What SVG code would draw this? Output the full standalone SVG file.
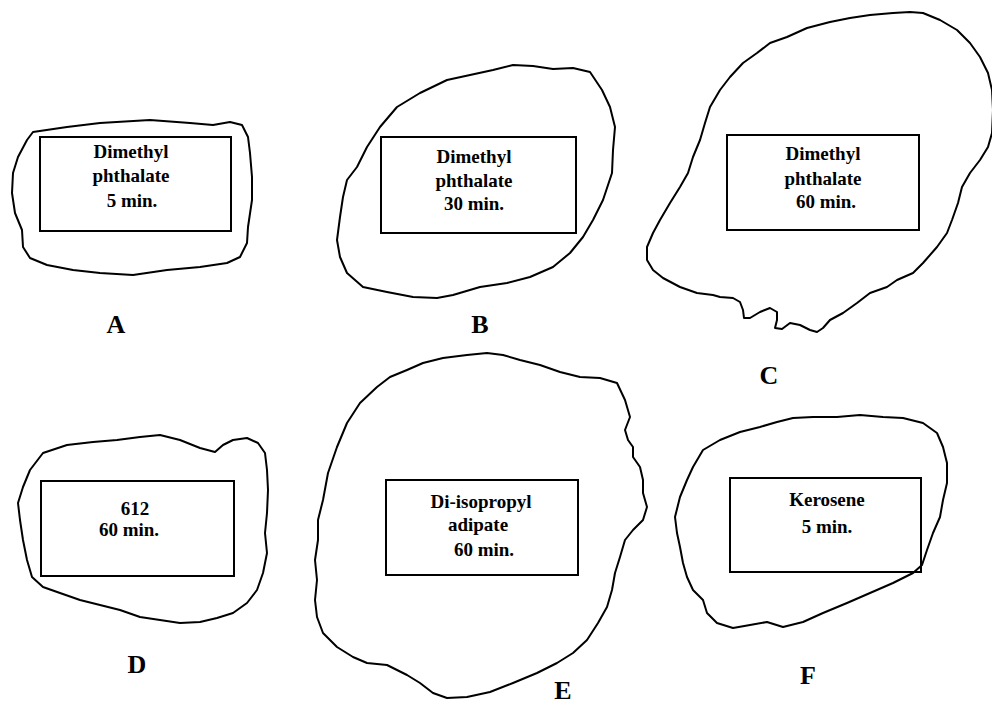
<svg xmlns="http://www.w3.org/2000/svg" width="992" height="705" viewBox="0 0 992 705">
<style>
.blob{fill:none;stroke:#000;stroke-width:2;stroke-linejoin:round}
.box{fill:none;stroke:#000;stroke-width:2}
.t{font-family:"Liberation Serif","Times New Roman",serif;font-weight:bold;font-size:19px;text-anchor:middle;fill:#000}
.lbl{font-family:"Liberation Serif","Times New Roman",serif;font-weight:bold;font-size:26px;text-anchor:middle;fill:#000}
</style>
<rect width="992" height="705" fill="#fff"/>
<g id="A">
<polygon class="blob" points="33,132 67,127 100,123 150,120 190,123 213,125 230,122 242,125 248,137 250,153 252,177 252,200 248,227 247,243 240,257 227,263 200,267 167,270 133,275 100,273 73,270 47,265 30,258 23,247 22,230 15,213 12,193 13,173 18,157 27,140"/>
<rect class="box" x="40" y="137" width="191" height="94"/>
<text class="t" x="131" y="158">Dimethyl</text>
<text class="t" x="131" y="182">phthalate</text>
<text class="t" x="132" y="207">5 min.</text>
<text class="lbl" x="116" y="333">A</text>
</g>
<g id="B">
<polygon class="blob" points="420,93 447,80 470,75 493,70 513,65 533,66 553,69 573,68 590,72 602,90 610,107 615,127 613,150 612,173 603,200 593,220 583,237 570,253 553,267 530,277 507,283 480,287 453,295 437,298 413,297 387,292 363,287 347,273 340,257 337,240 340,217 343,197 347,180 357,167 367,147 380,127 397,107"/>
<rect class="box" x="381" y="137" width="195" height="96"/>
<text class="t" x="474" y="163">Dimethyl</text>
<text class="t" x="474" y="187">phthalate</text>
<text class="t" x="474" y="210">30 min.</text>
<text class="lbl" x="480" y="333">B</text>
</g>
<g id="C">
<polygon class="blob" points="787,37 807,28 830,22 850,18 870,15 893,13 910,12 923,13 940,20 957,30 970,43 980,57 988,73 992,90 993,110 992,133 988,147 980,160 970,173 962,187 958,203 952,220 947,233 937,247 923,263 913,273 897,280 887,287 870,293 857,303 843,313 830,320 823,328 817,332 810,330 800,325 790,323 782,329 775,328 777,320 777,312 770,308 760,312 750,318 744,318 743,310 740,302 733,298 720,297 713,295 697,293 680,287 663,278 653,270 647,260 647,247 653,233 660,220 670,203 680,187 688,173 693,157 700,140 705,123 710,107 720,90 730,77 743,63 757,53 770,43"/>
<rect class="box" x="727" y="135" width="192" height="95"/>
<text class="t" x="823" y="160">Dimethyl</text>
<text class="t" x="823" y="185">phthalate</text>
<text class="t" x="826" y="208">60 min.</text>
<text class="lbl" x="769" y="384">C</text>
</g>
<g id="D">
<polygon class="blob" points="43,453 67,445 93,442 117,440 140,437 160,435 180,440 200,448 215,452 223,445 233,440 247,438 258,443 265,453 267,470 268,490 267,513 265,533 267,553 263,573 257,590 247,603 233,613 217,618 200,622 180,623 160,620 140,617 120,610 100,605 80,600 60,593 43,587 32,577 27,560 23,540 20,520 18,503 23,487 30,470"/>
<rect class="box" x="41" y="481" width="193" height="95"/>
<text class="t" x="135" y="515">612</text>
<text class="t" x="129" y="536">60 min.</text>
<text class="lbl" x="137" y="673">D</text>
</g>
<g id="E">
<polygon class="blob" points="407,370 423,363 443,358 467,355 487,353 503,355 520,360 540,365 560,372 580,377 600,378 617,383 625,400 630,417 625,430 628,440 633,447 633,457 640,467 643,480 643,493 647,507 643,520 633,530 625,540 620,557 615,573 612,590 607,607 598,623 587,640 573,653 557,663 537,673 513,683 490,692 467,697 447,698 433,693 420,683 407,675 387,665 367,663 353,657 337,647 323,633 317,617 315,600 317,580 315,560 318,540 318,520 323,500 328,473 337,447 347,423 360,403 377,387 390,377"/>
<rect class="box" x="386" y="480" width="192" height="95"/>
<text class="t" x="481" y="508">Di-isopropyl</text>
<text class="t" x="478" y="531">adipate</text>
<text class="t" x="484" y="556">60 min.</text>
<text class="lbl" x="563" y="699">E</text>
</g>
<g id="F">
<polygon class="blob" points="703,450 720,440 740,432 760,427 777,422 793,418 813,417 837,417 860,415 883,417 903,418 923,423 937,433 943,447 947,463 947,483 943,500 940,517 933,533 927,550 922,565 913,573 893,583 870,593 847,603 823,613 803,622 783,627 767,622 750,625 733,628 717,623 707,613 703,600 693,590 687,577 683,563 680,547 677,533 675,517 680,497 687,480 693,467"/>
<rect class="box" x="730" y="478" width="191" height="94"/>
<text class="t" x="827" y="506">Kerosene</text>
<text class="t" x="827" y="533">5 min.</text>
<text class="lbl" x="808" y="684">F</text>
</g>
</svg>
